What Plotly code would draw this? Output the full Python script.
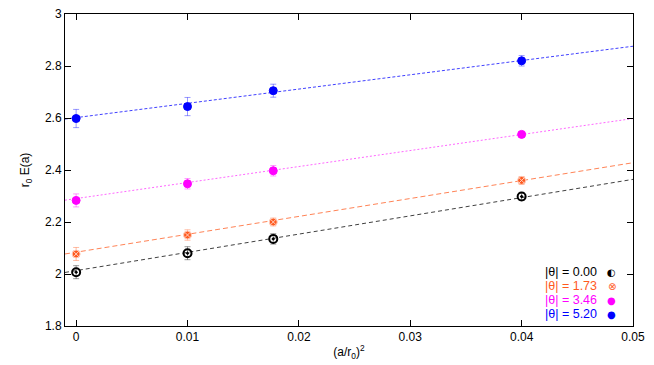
import plotly.graph_objects as go

# data
x_vals = [0.0, 0.01, 0.0177, 0.04]
labels = ["|θ| = 0.00", "|θ| = 1.73", "|θ| = 3.46", "|θ| = 5.20"]
key_glyphs = ["◐", "⊗", "●", "●"]
e_000 = [2.007, 2.080, 2.135, 2.298]
e_173 = [2.077, 2.150, 2.200, 2.360]
e_346 = [2.283, 2.347, 2.397, 2.537]
e_520 = [2.598, 2.644, 2.705, 2.820]
err_000 = [0.025, 0.025, 0.02, 0.015]
err_173 = [0.025, 0.02, 0.015, 0.015]
err_346 = [0.025, 0.02, 0.02, 0.01]
err_520 = [0.035, 0.035, 0.025, 0.02]
fit_x = [-0.001, 0.05]
fit_000 = [2.006, 2.364]
fit_173 = [2.077, 2.428]
fit_346 = [2.284, 2.598]
fit_520 = [2.596, 2.876]

colors = ["#000000", "#ff5a1e", "#ff00ff", "#0000ff"]
err_colors = ["rgba(0,0,0,0.4)", "rgba(255,90,30,0.4)", "rgba(255,0,255,0.4)", "rgba(0,0,255,0.4)"]
line_colors = ["rgba(0,0,0,0.75)", "rgba(255,90,30,0.75)", "rgba(255,0,255,0.6)", "rgba(0,0,255,0.75)"]
dashes = ["4px,3px", "5px,3px", "2px,2px", "3px,2px"]
symbols = ["circle-open-dot", "circle-x", "circle", "circle"]
mline = ["#000000", "#ffd0c0", "#ff00ff", "#0000ff"]
mline_w = [2.0, 1.0, 1.0, 1.0]

series = [e_000, e_173, e_346, e_520]
errs = [err_000, err_173, err_346, err_520]
fits = [fit_000, fit_173, fit_346, fit_520]

fig = go.Figure()
for i in range(4):
    fig.add_trace(go.Scatter(
        x=fit_x, y=fits[i], mode="lines",
        line=dict(color=line_colors[i], width=1, dash=dashes[i]),
        showlegend=False, hoverinfo="skip"))
for i in range(4):
    fig.add_trace(go.Scatter(
        x=x_vals, y=series[i], mode="markers",
        name=labels[i],
        marker=dict(color=colors[i], size=8, symbol=symbols[i],
                    line=dict(color=mline[i], width=mline_w[i])),
        error_y=dict(type="data", array=errs[i], color=err_colors[i],
                     thickness=1, width=3),
        showlegend=False))

font = "Liberation Sans, Arial, sans-serif"
axis_common = dict(showgrid=False, zeroline=False, showline=True,
                   linecolor="black", linewidth=1, mirror="ticks",
                   ticks="inside", ticklen=6, tickcolor="black",
                   automargin=False, ticklabeloverflow="allow",
                   tickfont=dict(family=font, size=12, color="black"))

# page body has an 8px margin, so the figure is shrunk and offset
fig.update_layout(
    width=646, height=357,
    margin=dict(l=57, r=21, t=6, b=39),
    paper_bgcolor="white", plot_bgcolor="white",
    font=dict(family=font, size=12, color="black"),
    xaxis=dict(range=[-0.001, 0.05], tickvals=[0, 0.01, 0.02, 0.03, 0.04, 0.05],
               ticktext=["0", "0.01", "0.02", "0.03", "0.04", "0.05"],
               title=dict(text="(a/r<sub>0</sub>)<sup>2</sup>", standoff=4,
                          font=dict(family=font, size=12)),
               **axis_common),
    yaxis=dict(range=[1.8, 3.0], tickvals=[1.8, 2.0, 2.2, 2.4, 2.6, 2.8, 3.0],
               ticktext=["1.8", "2", "2.2", "2.4", "2.6", "2.8", "3"],
               title=dict(text="r<sub>0</sub> E(a)", standoff=12,
                          font=dict(family=font, size=12)),
               **axis_common),
)
ys = [0.173, 0.128, 0.083, 0.038]
for i in range(4):
    fig.add_annotation(x=0.940, y=ys[i], xref="paper", yref="paper",
                       xanchor="right", yanchor="middle", showarrow=False,
                       text=labels[i], font=dict(family=font, size=12.5, color=colors[i]))
    fig.add_annotation(x=0.963, y=ys[i], xref="paper", yref="paper",
                       xanchor="center", yanchor="middle", showarrow=False,
                       text=key_glyphs[i],
                       font=dict(family="DejaVu Sans", size=10, color=colors[i]))
fig.write_html("out.html")
